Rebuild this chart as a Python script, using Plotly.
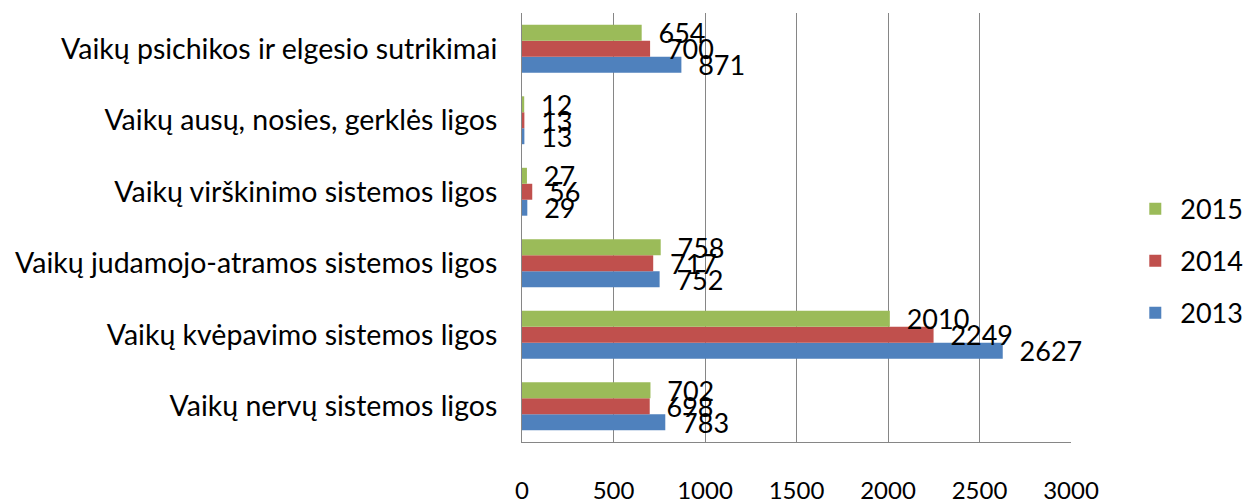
import plotly.graph_objects as go

categories = [
    "Vaikų nervų sistemos ligos",
    "Vaikų kvėpavimo sistemos ligos",
    "Vaikų judamojo-atramos sistemos ligos",
    "Vaikų virškinimo sistemos ligos",
    "Vaikų ausų, nosies, gerklės ligos",
    "Vaikų psichikos ir elgesio sutrikimai",
]
years = ["2013", "2014", "2015"]
values_2013 = [783, 2627, 752, 29, 13, 871]
values_2014 = [698, 2249, 717, 56, 13, 700]
values_2015 = [702, 2010, 758, 27, 12, 654]
colors = ["#4F81BD", "#C0504D", "#9BBB59"]
x_ticks = [0, 500, 1000, 1500, 2000, 2500, 3000]

FONT = "Lato"
series = [values_2013, values_2014, values_2015]
ranks = [3, 2, 1]

fig = go.Figure()
for name, vals, col, rk in zip(years, series, colors, ranks):
    fig.add_trace(go.Bar(
        y=categories, x=vals, name=name, orientation="h",
        marker=dict(color=col, line=dict(width=0)),
        text=[str(v) for v in vals],
        texttemplate="  %{text}",
        textposition="outside",
        constraintext="none",
        cliponaxis=False,
        textfont=dict(family=FONT, size=27, color="#000000"),
        legendgroup=name,
        legendrank=rk,
    ))

fig.update_layout(
    width=1255, height=503,
    barmode="group", bargap=0.33, bargroupgap=0,
    plot_bgcolor="white", paper_bgcolor="white",
    margin=dict(l=514, r=192, t=5, b=69),
    font=dict(family=FONT, size=27, color="#000000"),
    legend=dict(
        traceorder="grouped", tracegroupgap=14,
        x=1.108, xanchor="left", y=0.6, yanchor="top",
        font=dict(family=FONT, size=27, color="#000000"),
        itemwidth=40,
    ),
    showlegend=True,
)
fig.update_xaxes(
    range=[0, 3000], tickvals=x_ticks, ticktext=[str(t) for t in x_ticks],
    showgrid=True, gridcolor="#868686", gridwidth=1,
    showline=True, linecolor="#868686", linewidth=1,
    zeroline=False, ticks="", ticklabelstandoff=27, automargin=False,
    tickfont=dict(family=FONT, size=24, color="#000000"),
)
fig.update_yaxes(
    showgrid=False, showline=True, linecolor="#868686", linewidth=1,
    ticks="", ticklabelstandoff=18, automargin=False,
    tickfont=dict(family=FONT, size=28.5, color="#000000"),
)
fig.write_html("out.html")
